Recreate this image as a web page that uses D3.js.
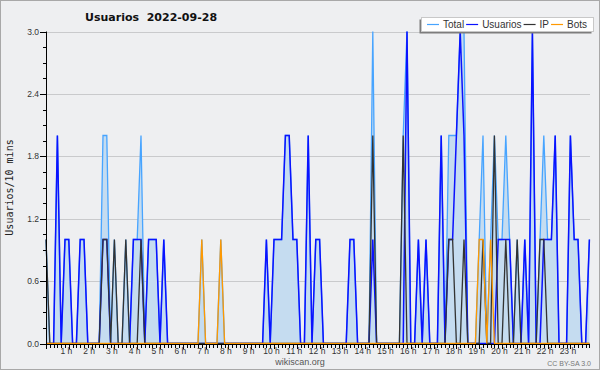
<!DOCTYPE html>
<html>
<head>
<meta charset="utf-8">
<script src="https://cdn.jsdelivr.net/npm/d3@7/dist/d3.min.js"></script>
<style>
body { margin: 0; background: #fff; }
svg { display: block; }
</style>
</head>
<body>
<div id="chart"></div>
<script>
// values per 10 minutes, 144 slots (00:00 .. 23:50)
var usuarios = [
  0,0,0,2,0,1,1,0,0,1,1,0,
  0,0,0,1,1,0,0,0,0,0,0,1,
  1,1,0,1,1,1,0,1,0,0,0,0,
  0,0,0,0,0,0,0,0,0,0,0,0,
  0,0,0,0,0,0,0,0,0,0,1,0,
  1,1,1,2,2,1,1,0,0,2,0,1,
  1,0,0,0,0,0,0,0,1,1,0,0,
  0,0,1,0,0,0,0,0,0,0,0,3,
  0,0,1,0,1,0,0,0,2,0,1,1,
  2,3,2,0,0,0,0,0,0,0,0,1,
  1,1,1,0,0,0,1,0,3,0,0,1,
  1,1,2,0,0,0,2,1,1,0,0,1
];
var ip = [
  1,0,0,0,0,0,0,0,0,0,0,0,
  0,0,0,1,1,0,1,0,0,1,0,0,
  0,1,0,0,0,0,0,0,0,0,0,0,
  0,0,0,0,0,0,0,0,0,0,0,0,
  0,0,0,0,0,0,0,0,0,0,0,0,
  0,0,0,0,0,0,0,0,0,0,0,0,
  0,0,0,0,0,0,0,0,0,0,0,0,
  0,0,2,0,0,0,0,0,0,0,2,0,
  0,0,0,0,0,0,0,0,0,0,1,1,
  0,0,1,0,0,0,0,1,0,0,2,0,
  0,1,0,0,1,0,0,0,0,0,1,1,
  0,0,0,0,0,0,0,0,0,0,0,0
];
var bots = [
  0,0,0,0,0,0,0,0,0,0,0,0,
  0,0,0,0,0,0,0,0,0,0,0,0,
  0,0,0,0,0,0,0,0,0,0,0,0,
  0,0,0,0,0,1,0,0,0,0,1,0,
  0,0,0,0,0,0,0,0,0,0,0,0,
  0,0,0,0,0,0,0,0,0,0,0,0,
  0,0,0,0,0,0,0,0,0,0,0,0,
  0,0,0,0,0,0,0,0,0,0,0,0,
  0,0,0,0,0,0,0,0,0,0,0,0,
  0,0,0,0,0,0,1,1,0,1,0,0,
  0,0,0,0,0,0,0,0,0,0,0,0,
  0,0,0,0,0,0,0,0,0,0,0,0
];
var total = [
  1,0,0,2,0,1,1,0,0,1,1,0,
  0,0,0,2,2,0,1,0,0,1,0,1,
  1,2,0,1,1,1,0,1,0,0,0,0,
  0,0,0,0,0,1,0,0,0,0,1,0,
  0,0,0,0,0,0,0,0,0,0,1,0,
  1,1,1,2,2,1,1,0,0,2,0,1,
  1,0,0,0,0,0,0,0,1,1,0,0,
  0,0,3,0,0,0,0,0,0,0,2,3,
  0,0,1,0,1,0,0,0,2,0,2,2,
  2,3,3,0,0,0,1,2,0,1,2,1,
  1,2,1,0,1,0,1,0,3,0,1,2,
  1,1,2,0,0,0,2,1,1,0,0,1
];
var hourLabels = ["1 h","2 h","3 h","4 h","5 h","6 h","7 h","8 h","9 h","10 h","11 h","12 h",
  "13 h","14 h","15 h","16 h","17 h","18 h","19 h","20 h","21 h","22 h","23 h"];
var yTicks = [0.0, 0.6, 1.2, 1.8, 2.4, 3.0];
var seriesNames = ["Total", "Usuarios", "IP", "Bots"];
var seriesColors = ["#47a4ff", "#0a12ff", "#333333", "#ff9900"];

var W = 600, H = 370;
var svg = d3.select("#chart").append("svg").attr("width", W).attr("height", H);

svg.append("rect").attr("x", 0.5).attr("y", 0.5).attr("width", W - 1).attr("height", H - 1)
  .attr("fill", "#eeeff1").attr("stroke", "#a8a8a8");

var x = d3.scaleLinear().domain([0, total.length - 1]).range([46, 589.4]);
var y = d3.scaleLinear().domain([0, 3]).range([343.5, 31.5]);

// grid
svg.append("g").selectAll("line").data(yTicks.slice(1)).enter().append("line")
  .attr("x1", 46).attr("x2", 590)
  .attr("y1", function(d) { return Math.round(y(d)) + 0.5; })
  .attr("y2", function(d) { return Math.round(y(d)) + 0.5; })
  .attr("stroke", "#c9cacc").attr("stroke-width", 1);

// filled area under total
var area = d3.area().x(function(d, i) { return x(i); }).y0(y(0)).y1(function(d) { return y(d); });
svg.append("path").datum(total).attr("d", area).attr("fill", "#c5dcf0");

var seriesData = [total, usuarios, ip, bots];
var line = d3.line().x(function(d, i) { return x(i); }).y(function(d) { return y(d); });
seriesData.forEach(function(s, k) {
  svg.append("path").datum(s).attr("d", line)
    .attr("fill", "none")
    .attr("stroke", seriesColors[k])
    .attr("stroke-width", k == 1 ? 1.5 : 1.3)
    .attr("stroke-linejoin", "miter");
});

// y axis
var yAxis = svg.append("g").attr("font-family", "Liberation Sans, Arial, sans-serif").attr("font-size", 8.5);
yAxis.append("line").attr("x1", 46.5).attr("x2", 46.5).attr("y1", y(3)).attr("y2", y(0) + 1)
  .attr("stroke", "#000");
yAxis.selectAll(".mt").data(d3.range(0, 21)).enter().append("line")
  .attr("x1", function(d) { return d % 4 == 0 ? 40 : 43; }).attr("x2", 46)
  .attr("y1", function(d) { return Math.round(y(d * 0.15)) + 0.5; })
  .attr("y2", function(d) { return Math.round(y(d * 0.15)) + 0.5; })
  .attr("stroke", "#000");
yAxis.selectAll("text").data(yTicks).enter().append("text")
  .attr("x", 39).attr("y", function(d) { return y(d) + 3; })
  .attr("text-anchor", "end").attr("fill", "#333")
  .text(function(d) { return d.toFixed(1); });

svg.append("text")
  .attr("transform", "translate(13," + y(1.5) + ") rotate(-90)")
  .attr("text-anchor", "middle").attr("font-family", "DejaVu Sans Mono, monospace")
  .attr("font-size", 10).attr("fill", "#222").text("Usuarios/10 mins");

// x axis
var xAxis = svg.append("g").attr("font-family", "Liberation Sans, Arial, sans-serif").attr("font-size", 8.5);
xAxis.append("line").attr("x1", 46).attr("x2", 590).attr("y1", 344.5).attr("y2", 344.5).attr("stroke", "#000");
xAxis.selectAll(".xt").data(d3.range(0, 144)).enter().append("line")
  .attr("x1", function(d) { return Math.round(x(d)) + 0.5; })
  .attr("x2", function(d) { return Math.round(x(d)) + 0.5; })
  .attr("y1", 344.5).attr("y2", function(d) { return d % 6 == 0 ? 349 : 348; })
  .attr("stroke", "#000");
xAxis.selectAll("text").data(hourLabels).enter().append("text")
  .attr("x", function(d, i) { return x((i + 1) * 6) - 2.5; }).attr("y", 354)
  .attr("text-anchor", "middle").attr("fill", "#333")
  .text(function(d) { return d; });

// title
svg.append("text").attr("x", 85).attr("y", 20.5)
  .attr("font-family", "DejaVu Sans, sans-serif").attr("font-weight", "bold").attr("font-size", 11)
  .attr("fill", "#111").attr("xml:space", "preserve").style("white-space", "pre")
  .text("Usuarios  2022-09-28");

// legend
var lg = svg.append("g").attr("font-family", "Liberation Sans, Arial, sans-serif").attr("font-size", 10);
lg.append("rect").attr("x", 419.5).attr("y", 19.5).attr("width", 172).attr("height", 14).attr("fill", "#7d7d7d");
lg.append("rect").attr("x", 421.5).attr("y", 17.5).attr("width", 172).attr("height", 14)
  .attr("fill", "#fff").attr("stroke", "#c8c8c8");
var lx = 427;
seriesNames.forEach(function(n, k) {
  lg.append("line").attr("x1", lx).attr("x2", lx + 12).attr("y1", 24.5).attr("y2", 24.5)
    .attr("stroke", seriesColors[k]).attr("stroke-width", 1.2);
  var t = lg.append("text").attr("x", lx + 16).attr("y", 28.3).attr("fill", "#333").text(n);
  lx = lx + 16 + t.node().getComputedTextLength() + 2;
});

// footer
svg.append("text").attr("x", 300).attr("y", 365).attr("text-anchor", "middle")
  .attr("font-family", "Liberation Sans, Arial, sans-serif").attr("font-size", 9).attr("fill", "#555")
  .text("wikiscan.org");
svg.append("text").attr("x", 591).attr("y", 366).attr("text-anchor", "end")
  .attr("font-family", "Liberation Sans, Arial, sans-serif").attr("font-size", 7).attr("fill", "#777")
  .text("CC BY-SA 3.0");
</script>
</body>
</html>
